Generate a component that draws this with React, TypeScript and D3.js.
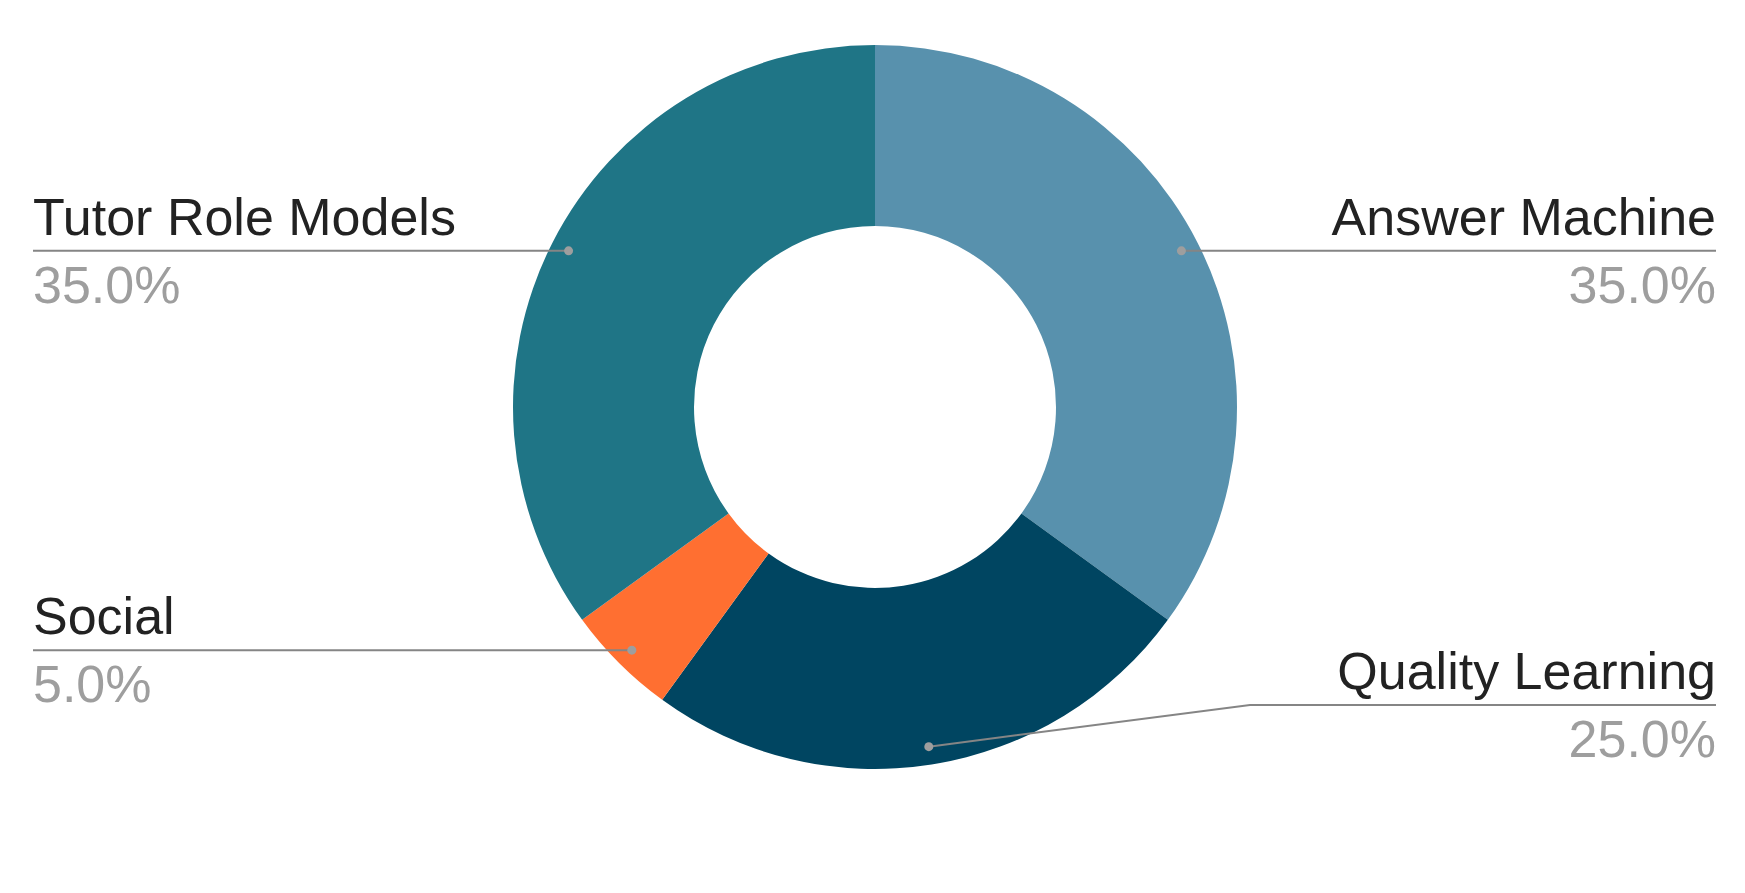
import * as d3 from "d3";

const categories = ["Answer Machine", "Quality Learning", "Social", "Tutor Role Models"];
const values = [35, 25, 5, 35];
const colors = ["#5891ad", "#004561", "#ff6f31", "#1f7586"];

const W = 1745;
const H = 893;
const CX = 875;
const CY = 407;
const OUTER = 362;
const INNER = 181;
const DOT_R = OUTER * 0.95;
const LEFT_X = 33;
const RIGHT_X = 1716;
const RIGHT_ELBOW = 1250;
const MAX_LABEL_Y = 705;
const FONT = "'Liberation Sans', Arial, sans-serif";

type Row = { label: string; value: number; color: string };
const rows: Row[] = categories.map((c, i) => ({ label: c, value: values[i], color: colors[i] }));

export default function App() {
  const pie = d3.pie<Row>().value((d) => d.value).sort(null);
  const arcs = pie(rows);
  const arc = d3.arc<d3.PieArcDatum<Row>>().innerRadius(INNER).outerRadius(OUTER);
  const total = d3.sum(values);

  return (
    <svg
      width={W}
      height={H}
      style={{ position: "absolute", left: 0, top: 0, background: "#fff" }}
    >
      <g transform={`translate(${CX},${CY})`}>
        {arcs.map((a, i) => (
          <path key={i} d={arc(a) ?? ""} fill={a.data.color} />
        ))}
      </g>
      {arcs.map((a, i) => {
        const mid = (a.startAngle + a.endAngle) / 2;
        const dx = CX + DOT_R * Math.sin(mid);
        const dy = CY - DOT_R * Math.cos(mid);
        const right = Math.sin(mid) > 0;
        // labels are pushed up when they would run off the bottom
        const ly = Math.min(dy, MAX_LABEL_Y);
        const pts = right
          ? [[dx, dy], [RIGHT_ELBOW, ly], [RIGHT_X, ly]]
          : [[dx, dy], [LEFT_X, ly]];
        const tx = right ? RIGHT_X : LEFT_X;
        const anchor = right ? "end" : "start";
        return (
          <g key={i}>
            <path
              d={d3.line()(pts as [number, number][]) ?? ""}
              fill="none"
              stroke="#858585"
              strokeWidth={2}
            />
            <circle cx={dx} cy={dy} r={4.5} fill="#9e9e9e" />
            <text
              x={tx}
              y={ly - 16}
              textAnchor={anchor}
              fontFamily={FONT}
              fontSize={52}
              fill="#222"
            >
              {a.data.label}
            </text>
            <text
              x={tx}
              y={ly + 52}
              textAnchor={anchor}
              fontFamily={FONT}
              fontSize={52}
              fill="#9e9e9e"
            >
              {`${((a.data.value / total) * 100).toFixed(1)}%`}
            </text>
          </g>
        );
      })}
    </svg>
  );
}
